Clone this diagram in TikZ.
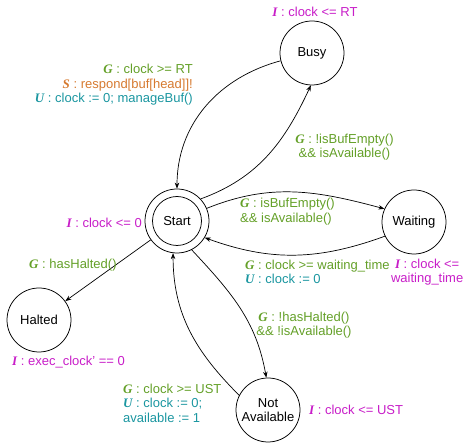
\documentclass[tikz,border=0pt]{standalone}
\usepackage{fontspec}
\setmainfont{Liberation Sans}
\newfontfamily\kwfont{Liberation Serif}
\usetikzlibrary{arrows.meta}
\definecolor{cg}{RGB}{100,160,40}
\definecolor{co}{RGB}{214,122,48}
\definecolor{ct}{RGB}{26,150,160}
\definecolor{cm}{RGB}{200,30,200}
\newcommand{\kw}[1]{{\kwfont\bfseries\itshape #1}}
\begin{document}
\begin{tikzpicture}[x=1pt,y=1pt,
  font=\fontsize{13}{14.5}\selectfont,
  state/.style={circle,draw,line width=0.75pt,minimum size=64pt,inner sep=0pt,align=center},
  edge/.style={-{Stealth[length=6pt,width=4.5pt]},line width=0.7pt},
  lbl/.style={inner sep=0pt}]
\useasboundingbox (0,0) rectangle (464,443);
\node[state] (busy) at (312,390) {Busy};
\node[state] (start) at (177,222) {Start};
\draw[line width=0.75pt] (start.center) circle (24.5);
\node[state] (waiting) at (414,221) {Waiting};
\node[state] (halted) at (39,123) {Halted};
\node[state] (na) at (268,33) {Not\\Available};

\draw[edge] (busy.194) to[out=195,in=90] (start.90);
\draw[edge] (start.43) to[out=20,in=245] (busy.268);
\draw[edge] (start.23) to[out=22,in=165] (waiting.156);
\draw[edge] (waiting.206) to[out=200,in=340] (start.329);
\draw[edge] (start) -- (halted);
\draw[edge] (start.297) to[out=-47,in=100] (na.93);
\draw[edge] (na.153) to[out=135,in=270] (start.263);

\node[lbl,text=cm] (l1) at (315,431) {\kw{I} : clock <= RT};
\node[lbl,anchor=east,align=right] (l2) at (193,358) {\textcolor{cg}{\kw{G} : clock >= RT}\\\textcolor{co}{\kw{S} : respond[buf[head]]!}\\\textcolor{ct}{\kw{U} : clock := 0; manageBuf()}};
\node[lbl,align=center,text=cg] (l3) at (344.5,296) {\kw{G} : !isBufEmpty()\\\&\& isAvailable()};
\node[lbl,anchor=east,text=cm] (l4) at (142,220) {\kw{I} : clock <= 0};
\node[lbl,anchor=west,align=left,text=cg] (l5) at (240,231.5) {\kw{G} : isBufEmpty()\\\&\& isAvailable()};
\node[lbl,anchor=west,align=left] (l6) at (245,171) {\textcolor{cg}{\kw{G} : clock >= waiting\_time}\\\textcolor{ct}{\kw{U} : clock := 0}};
\node[lbl,align=center,text=cm,anchor=east] (l7) at (463.5,171) {\kw{I} : clock <=\\waiting\_time};
\node[lbl,anchor=west,text=cg] (l8) at (29,178) {\kw{G} : hasHalted()};
\node[lbl,anchor=west,text=cm] (l9) at (12,81) {\kw{I} : exec\_clock' == 0};
\node[lbl,align=center,text=cg] (l10) at (304,118) {\kw{G} : !hasHalted()\\\&\& !isAvailable()};
\node[lbl,anchor=west,align=left] (l11) at (123,40) {\textcolor{cg}{\kw{G} : clock >= UST}\\\textcolor{ct}{\kw{U} : clock := 0;}\\\textcolor{ct}{available := 1}};
\node[lbl,anchor=west,text=cm] (l12) at (309,33) {\kw{I} : clock <= UST};
\end{tikzpicture}
\end{document}
